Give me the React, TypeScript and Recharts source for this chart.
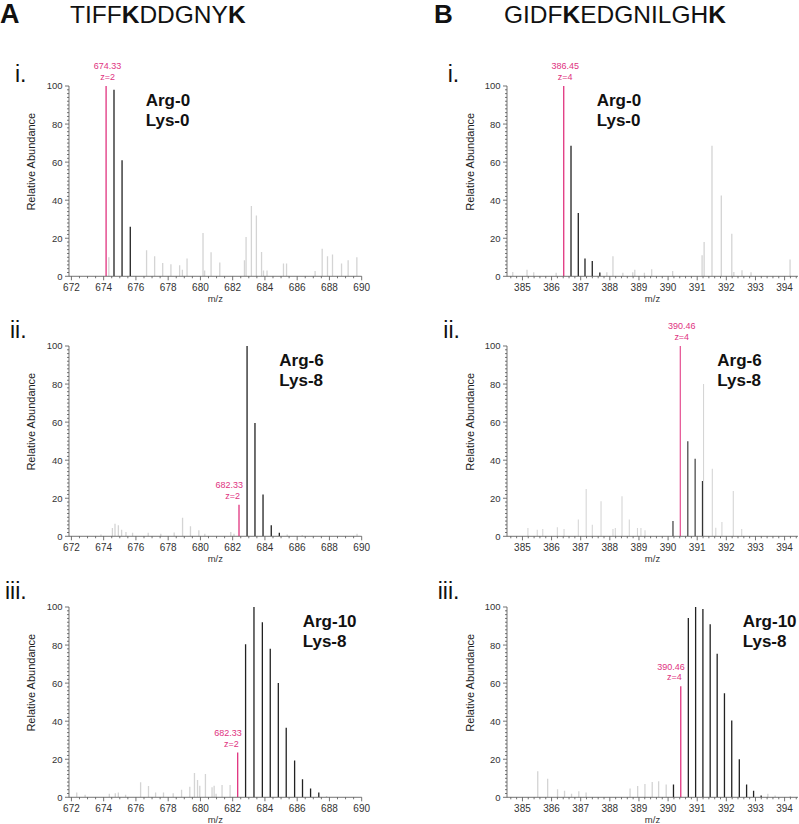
import { Bar, BarChart, Cell, LabelList, XAxis, YAxis } from "recharts";

type Peak = [number, number];
type Mono = { mz: number; abundance: number; label: string; charge: string };

const FONT = '"Liberation Sans", Arial, Helvetica, sans-serif';
const PINK = "#e0337f";
const BLACK = "#222222";
const GREY = "#d4d4d4";
const AXIS = "#505050";

// axis tick labels
const aMajorTicks = [672, 674, 676, 678, 680, 682, 684, 686, 688, 690];
const bMajorTicks = [385, 386, 387, 388, 389, 390, 391, 392, 393, 394];
const yMajorTicks = [0, 20, 40, 60, 80, 100];

// A: TIFFKDDGNYK
const aiMono: Mono = { mz: 674.16, abundance: 100, label: "674.33", charge: "z=2" };
const aiIsotopes: Peak[] = [[674.65, 98], [675.15, 61], [675.66, 26]];
const aiNoise: Peak[] = [
  [674.33, 10], [676.67, 13.7], [677.17, 10.5], [677.67, 7], [678.18, 6.3], [678.72, 5.8], [678.89, 3.5],
  [679.18, 9.3], [680.17, 22.8], [680.27, 3], [680.67, 12.6], [681.21, 7.2], [682.74, 8.4], [682.84, 20.7],
  [683.17, 37], [683.48, 32], [683.8, 12.8], [683.92, 3], [684.14, 3], [685.16, 6.7], [685.35, 6.7],
  [687.12, 2.8], [687.56, 14.5], [687.89, 10.5], [688.2, 11.5], [688.76, 6.7], [689.17, 8.4], [689.71, 10],
];

const aiiMono: Mono = { mz: 682.37, abundance: 16.6, label: "682.33", charge: "z=2" };
const aiiIsotopes: Peak[] = [[682.87, 100], [683.36, 59.5], [683.86, 22], [684.37, 5.8], [684.87, 1.8]];
const aiiNoise: Peak[] = [
  [673.81, 1], [674.52, 4.4], [674.68, 6.6], [674.89, 5.8], [675.09, 3.5], [675.36, 2.3], [675.77, 1.8],
  [676.74, 1.8], [677.52, 1.4], [678.35, 2], [678.87, 9.8], [679.36, 5.3], [679.88, 3.2], [680.25, 1.4],
  [681.86, 2.3], [682.06, 1.4], [685.36, 1], [686.29, 0.7], [689.69, 1.4],
];

const aiiiMono: Mono = { mz: 682.33, abundance: 23.5, label: "682.33", charge: "z=2" };
const aiiiIsotopes: Peak[] = [
  [682.82, 80.4], [683.34, 100], [683.86, 92], [684.35, 78], [684.85, 60], [685.34, 36.5],
  [685.86, 19.3], [686.35, 9.5], [686.85, 4.6], [687.36, 2.5],
];
const aiiiNoise: Peak[] = [
  [672.35, 2.5], [672.87, 1.4], [674.37, 1.8], [674.74, 2.1], [674.93, 2.5], [675.38, 1.4], [676.31, 7.9],
  [676.8, 6], [677.24, 2.5], [677.73, 2.5], [678.33, 2.1], [678.85, 3.9], [679.36, 5.6], [679.65, 12.8],
  [679.84, 9.1], [679.98, 6.1], [680.33, 12.3], [680.74, 5.3], [680.87, 6.1], [680.99, 1.8], [681.36, 6.5],
  [681.86, 6.5], [687.84, 0.7],
];

// B: GIDFKEDGNILGHK
const biMono: Mono = { mz: 386.43, abundance: 100, label: "386.45", charge: "z=4" };
const biIsotopes: Peak[] = [[386.68, 68.6], [386.93, 33.3], [387.16, 9.3], [387.41, 8], [387.67, 2]];
const biNoise: Peak[] = [
  [384.68, 2.3], [385.17, 3.5], [385.4, 2.1], [386.17, 1.8], [387.91, 2.1], [388.12, 10.5], [388.46, 1.8],
  [388.8, 2.1], [388.87, 3.5], [389.2, 1.8], [389.45, 3.7], [390.17, 2.8], [391.18, 11], [391.25, 18],
  [391.52, 68.6], [391.84, 42.5], [392.2, 22.4], [392.27, 2.3], [392.55, 3.2], [392.86, 2.1], [394.2, 8.8],
];

const biiMono: Mono = { mz: 390.42, abundance: 100, label: "390.46", charge: "z=4" };
const biiIsotopes: Peak[] = [[390.17, 8], [390.68, 50], [390.93, 40.8], [391.18, 29]];
const biiNoise: Peak[] = [
  [385.19, 4.4], [385.51, 3.5], [385.7, 3.9], [386.2, 4.7], [386.43, 3.9], [386.92, 8.8], [387.19, 24.9],
  [387.4, 6.1], [387.7, 18.4], [388.11, 3.9], [388.19, 4.4], [388.42, 21], [388.67, 8.8], [388.95, 4.4],
  [389.07, 4.4], [389.21, 3.2], [391.22, 80], [391.52, 35.5], [391.64, 4.5], [391.85, 7.5], [392.24, 23.8],
  [392.53, 3.9],
];

const biiiMono: Mono = { mz: 390.42, abundance: 58.4, label: "390.46", charge: "z=4" };
const biiiIsotopes: Peak[] = [
  [390.17, 6.7], [390.68, 94.2], [390.93, 100], [391.18, 99], [391.43, 90.9], [391.67, 75.4],
  [391.92, 54.7], [392.17, 40.4], [392.43, 20], [392.68, 6.7], [392.92, 3.5], [393.18, 1],
];
const biiiNoise: Peak[] = [
  [385.51, 13.7], [385.85, 9.8], [386.19, 4.2], [386.43, 3.5], [386.67, 1.8], [386.92, 3.2], [387.17, 2.5],
  [388.68, 4.6], [388.94, 6], [389.19, 7], [389.44, 8], [389.66, 8.4], [389.92, 6.7], [393.41, 1.8],
  [393.66, 0.9], [394.18, 0.7],
];

const aDomain: [number, number] = [671.85, 690];
const bDomain: [number, number] = [384.47, 394.46];

function stepTicks(domain: [number, number], step: number) {
  const out: number[] = [];
  for (let v = Math.ceil(domain[0] / step - 1e-6) * step; v <= domain[1] + 1e-6; v += step) {
    out.push(Math.round(v * 100) / 100);
  }
  return out;
}

function XTick(props: any) {
  const { x, y, payload, majors } = props;
  const v = payload.value;
  const major = majors.some((m: number) => Math.abs(m - v) < 1e-6);
  return (
    <g>
      <line x1={x} x2={x} y1={y} y2={y + (major ? 4 : 2)} stroke={AXIS} strokeWidth={0.8} />
      {major && (
        <text x={x} y={y + 14.5} textAnchor="middle" fontSize={10} fill="#333">
          {v}
        </text>
      )}
    </g>
  );
}

function YTick(props: any) {
  const { x, y, payload } = props;
  const v = payload.value;
  const major = yMajorTicks.includes(v);
  return (
    <g>
      <line x1={x - (major ? 4 : 2)} x2={x} y1={y} y2={y} stroke={AXIS} strokeWidth={0.8} />
      {major && (
        <text x={x - 6.5} y={y + 3.5} textAnchor="end" fontSize={9.5} fill="#333">
          {v}
        </text>
      )}
    </g>
  );
}

const kindColor: Record<string, string> = { noise: GREY, iso: BLACK, mono: PINK };

type SpectrumProps = {
  plotLeft: number;
  plotTop: number;
  plotWidth: number;
  domain: [number, number];
  majors: number[];
  minorStep: number;
  mono: Mono;
  isotopes: Peak[];
  noise: Peak[];
  align: "middle" | "end";
};

function Spectrum({ plotLeft, plotTop, plotWidth, domain, majors, minorStep, mono, isotopes, noise, align }: SpectrumProps) {
  const plotHeight = 190.3;
  const rows = [
    ...noise.map(([mz, ab]) => ({ mz, ab, kind: "noise", note: "" })),
    ...isotopes.map(([mz, ab]) => ({ mz, ab, kind: "iso", note: "" })),
    { mz: mono.mz, ab: mono.abundance, kind: "mono", note: mono.label + "|" + mono.charge },
  ];
  const yTicks = stepTicks([0, 100], 2);
  const xTicks = stepTicks(domain, minorStep);

  const renderNote = (p: any) => {
    if (!p.value) return null;
    const [mz, z] = String(p.value).split("|");
    const cx = Number(p.x) + Number(p.width) / 2;
    const top = Number(p.y);
    return (
      <g fill={PINK} fontSize={9}>
        <text x={align === "middle" ? cx + 1.5 : cx + 4} y={top - 16.5} textAnchor={align}>
          {mz}
        </text>
        <text x={align === "middle" ? cx + 1.5 : cx + 1} y={top - 6} textAnchor={align}>
          {z}
        </text>
      </g>
    );
  };

  return (
    <div style={{ position: "absolute", left: plotLeft - 45, top: plotTop - 30 }}>
      <BarChart
        width={45 + plotWidth + 10}
        height={30 + plotHeight + 30}
        data={rows}
        margin={{ top: 30, right: 10, bottom: 0, left: 0 }}
      >
        <XAxis
          type="number"
          dataKey="mz"
          domain={domain}
          allowDataOverflow
          ticks={xTicks}
          interval={0}
          tickLine={false}
          tickSize={0}
          tickMargin={0}
          tick={(p: any) => <XTick {...p} majors={majors} />}
          axisLine={{ stroke: AXIS, strokeWidth: 0.8 }}
          height={30}
          label={{ value: "m/z", position: "insideBottom", offset: 4.5, fontSize: 9.5, fill: "#333" }}
        />
        <YAxis
          type="number"
          domain={[0, 100]}
          allowDataOverflow
          ticks={yTicks}
          interval={0}
          tickLine={false}
          tickSize={0}
          tickMargin={0}
          tick={(p: any) => <YTick {...p} />}
          axisLine={{ stroke: AXIS, strokeWidth: 0.8 }}
          width={45}
        />
        <Bar dataKey="ab" barSize={1.3} isAnimationActive={false}>
          {rows.map((r, i) => (
            <Cell key={i} fill={kindColor[r.kind]} />
          ))}
          <LabelList dataKey="note" content={renderNote} />
        </Bar>
      </BarChart>
    </div>
  );
}

const panels = [
  { plotLeft: 69, plotTop: 85.7, plotWidth: 292.7, domain: aDomain, majors: aMajorTicks, minorStep: 0.5, mono: aiMono, isotopes: aiIsotopes, noise: aiNoise, align: "middle" as const, numeral: "i.", numeralX: 15, numeralY: 81.7, tagX: 145.7, tag: ["Arg-0", "Lys-0"] },
  { plotLeft: 69, plotTop: 345.7, plotWidth: 292.7, domain: aDomain, majors: aMajorTicks, minorStep: 0.5, mono: aiiMono, isotopes: aiiIsotopes, noise: aiiNoise, align: "end" as const, numeral: "ii.", numeralX: 10, numeralY: 338.3, tagX: 279.3, tag: ["Arg-6", "Lys-8"] },
  { plotLeft: 69, plotTop: 606.7, plotWidth: 292.7, domain: aDomain, majors: aMajorTicks, minorStep: 0.5, mono: aiiiMono, isotopes: aiiiIsotopes, noise: aiiiNoise, align: "end" as const, numeral: "iii.", numeralX: 5, numeralY: 599, tagX: 302.7, tag: ["Arg-10", "Lys-8"] },
  { plotLeft: 507.3, plotTop: 85.7, plotWidth: 291, domain: bDomain, majors: bMajorTicks, minorStep: 0.2, mono: biMono, isotopes: biIsotopes, noise: biNoise, align: "middle" as const, numeral: "i.", numeralX: 447.7, numeralY: 81.7, tagX: 596.7, tag: ["Arg-0", "Lys-0"] },
  { plotLeft: 507.3, plotTop: 345.7, plotWidth: 291, domain: bDomain, majors: bMajorTicks, minorStep: 0.2, mono: biiMono, isotopes: biiIsotopes, noise: biiNoise, align: "middle" as const, numeral: "ii.", numeralX: 443.3, numeralY: 338.3, tagX: 717.3, tag: ["Arg-6", "Lys-8"] },
  { plotLeft: 507.3, plotTop: 606.7, plotWidth: 291, domain: bDomain, majors: bMajorTicks, minorStep: 0.2, mono: biiiMono, isotopes: biiiIsotopes, noise: biiiNoise, align: "end" as const, numeral: "iii.", numeralX: 437.7, numeralY: 599, tagX: 742.7, tag: ["Arg-10", "Lys-8"] },
];

export default function App() {
  return (
    <div
      style={{
        position: "absolute",
        left: 0,
        top: 0,
        width: 799,
        height: 824,
        overflow: "hidden",
        background: "#fff",
        fontFamily: FONT,
      }}
    >
      {panels.map((p, i) => (
        <Spectrum key={i} {...p} />
      ))}
      <svg
        width={799}
        height={824}
        style={{ position: "absolute", left: 0, top: 0, pointerEvents: "none", fontFamily: FONT }}
      >
        <text x={0} y={23} fontSize={27} fontWeight="bold" fill="#111">A</text>
        <text x={70} y={23} fontSize={24.5} fill="#111">
          TIFF<tspan fontWeight="bold">K</tspan>DDGNY<tspan fontWeight="bold">K</tspan>
        </text>
        <text x={434} y={23} fontSize={26} fontWeight="bold" fill="#111">B</text>
        <text x={504} y={23} fontSize={24.5} fill="#111">
          GIDF<tspan fontWeight="bold">K</tspan>EDGNILGH<tspan fontWeight="bold">K</tspan>
        </text>
        {panels.map((p, i) => (
          <g key={i}>
            <text x={p.numeralX} y={p.numeralY} fontSize={23} fill="#111">{p.numeral}</text>
            <text x={p.tagX} y={p.plotTop + 20} fontSize={17} fontWeight="bold" fill="#111">{p.tag[0]}</text>
            <text x={p.tagX} y={p.plotTop + 40.5} fontSize={17} fontWeight="bold" fill="#111">{p.tag[1]}</text>
            <text
              x={p.plotLeft - 37.5}
              y={p.plotTop + 76}
              fontSize={11}
              fill="#222"
              textAnchor="middle"
              dominantBaseline="central"
              transform={`rotate(-90 ${p.plotLeft - 37.5} ${p.plotTop + 76})`}
            >
              Relative Abundance
            </text>
          </g>
        ))}
      </svg>
    </div>
  );
}
